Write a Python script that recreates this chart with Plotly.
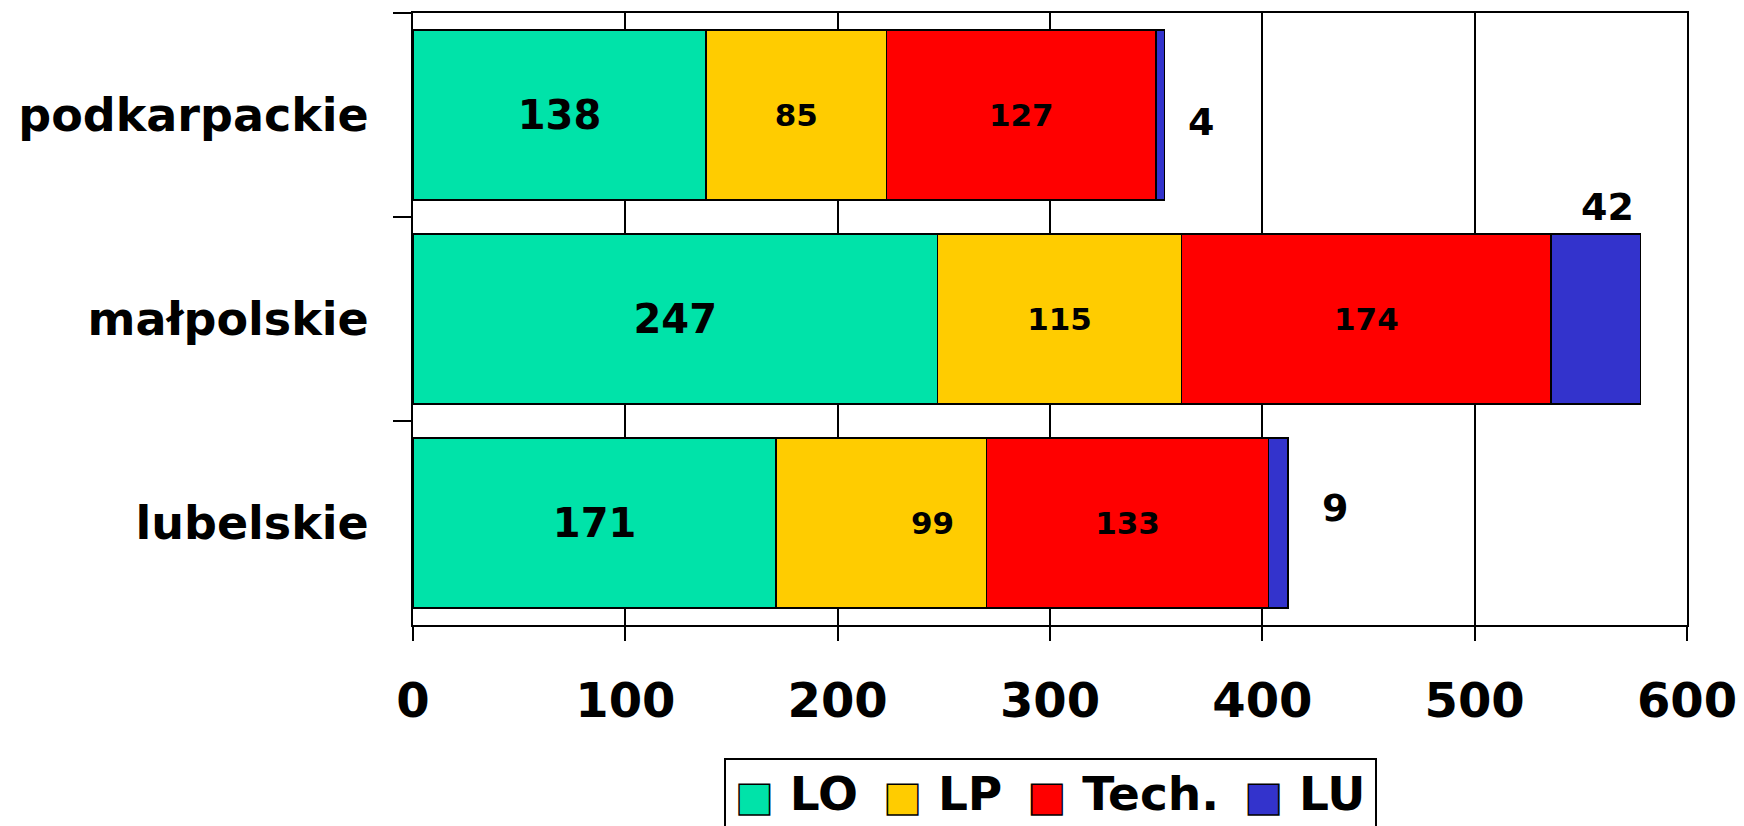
import plotly.graph_objects as go

FONT = "DejaVu Sans"

regions = ["podkarpackie", "małpolskie", "lubelskie"]
series_names = ["LO", "LP", "Tech.", "LU"]
lo_vals = [138, 247, 171]
lp_vals = [85, 115, 99]
tech_vals = [127, 174, 133]
lu_vals = [4, 42, 9]
colors = ["#00E3A9", "#FFCC00", "#FF0000", "#3333CC"]
x_ticks = [0, 100, 200, 300, 400, 500, 600]

all_vals = [lo_vals, lp_vals, tech_vals, lu_vals]
label_sizes = [40, 31, 31, None]

# in the original the lubelskie LP label sits right of its segment centre
lp_text = [str(v) for v in lp_vals]
lp_text[2] = ""

fig = go.Figure()
for name, vals, col, fs in zip(series_names, all_vals, colors, label_sizes):
    txt = lp_text if name == "LP" else vals
    fig.add_trace(go.Bar(
        y=regions, x=vals, orientation="h", name=name, showlegend=False,
        marker=dict(color=col, line=dict(color="black", width=1.5)),
        text=txt if fs else None,
        textposition="inside" if fs else "none",
        insidetextanchor="middle",
        textfont=dict(family=FONT, size=fs or 10, color="black", weight="bold"),
    ))

fig.add_annotation(x=lo_vals[2] + lp_vals[2] / 2, y=regions[2], text=str(lp_vals[2]),
                   showarrow=False, xshift=51,
                   font=dict(family=FONT, size=31, color="black", weight="bold"))

# LU values sit outside the bars, as in the original
totals = [a + b + c + d for a, b, c, d in zip(*all_vals)]
shifts = [(36, -7), (-33, 112), (47, 15)]
for reg, tot, v, (dx, dy) in zip(regions, totals, lu_vals, shifts):
    fig.add_annotation(x=tot, y=reg, text=str(v), showarrow=False, xshift=dx, yshift=dy,
                       font=dict(family=FONT, size=38, color="black", weight="bold"))

# boxed legend with large outlined swatches (plotly's own swatches are tiny)
gap = "\u00a0\u2009"
items = [f'<span style="color:{c};stroke:black;stroke-width:1.5px;font-size:40px">■</span>\u00a0{n}'
         for n, c in zip(series_names, colors)]
fig.add_annotation(xref="paper", yref="paper", x=0.5, y=-0.2175, xanchor="center", yanchor="top",
                   text=gap.join(items), showarrow=False, align="center",
                   width=637, borderpad=6, bordercolor="black", borderwidth=2, bgcolor="white",
                   font=dict(family=FONT, size=47, color="black", weight="bold"))

fig.update_layout(
    barmode="stack", bargap=0.167,
    width=1744, height=826,
    margin=dict(l=405, r=65, t=5, b=209, autoexpand=False),
    paper_bgcolor="white", plot_bgcolor="white",
    font=dict(family=FONT, color="black", weight="bold"),
    showlegend=False,
)
fig.update_xaxes(range=[0, 600], tickvals=x_ticks, showgrid=True, gridcolor="black", gridwidth=1.5,
                 showline=True, linecolor="black", linewidth=2, mirror=True,
                 ticks="outside", ticklen=14, tickwidth=1.5, tickcolor="black",
                 ticklabelstandoff=18, zeroline=False, automargin=False,
                 tickfont=dict(size=48, weight="bold"))
fig.update_yaxes(autorange="reversed", showline=True, linecolor="black", linewidth=2, mirror=True,
                 ticks="outside", tickson="boundaries", ticklen=18, tickwidth=1.5, tickcolor="black",
                 ticklabelstandoff=33, showgrid=False, automargin=False,
                 tickfont=dict(size=46, weight="bold"))

fig.write_html("out.html")
